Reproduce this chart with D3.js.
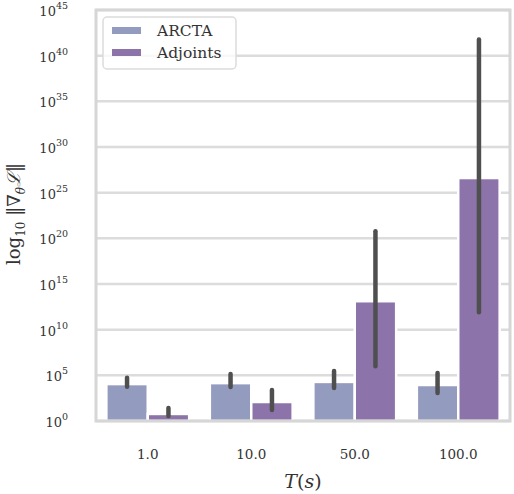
<!DOCTYPE html>
<html>
<head>
<meta charset="utf-8">
<script src="https://cdn.jsdelivr.net/npm/d3@7"></script>
<style>
  body { margin: 0; background: #fff; }
  text { font-family: "DejaVu Serif", serif; fill: #333; }
</style>
</head>
<body>
<div class="chart"></div>
<script>
// values (log scale)
const categories = ['1.0', '10.0', '50.0', '100.0'];
const series = ['ARCTA', 'Adjoints'];
const arctaMean = [1.1e4, 1.4e4, 1.9e4, 8.7e3];
const arctaLow  = [5.6e3, 5.2e3, 4.0e3, 1.2e3];
const arctaHigh = [5.5e4, 1.4e5, 3.0e5, 1.8e5];
const adjMean = [5.9, 1.2e2, 1.3e13, 4.0e26];
const adjLow  = [3.5, 16, 1.0e6, 8.0e11];
const adjHigh = [26, 2.5e3, 6.0e20, 6.0e41];
const yTickExp = [0, 5, 10, 15, 20, 25, 30, 35, 40, 45];
const colors = ['#939bbf', '#8c73a9'];

const svgwidth = 514;
const svgheight = 494;
const margin = {left: 96, right: 4, top: 10, bottom: 73};

const svg = d3.select('.chart').append('svg')
    .attr('width', svgwidth)
    .attr('height', svgheight);

const x = d3.scaleBand()
    .domain(categories)
    .range([margin.left, svgwidth - margin.right])
    .paddingInner(0.2)
    .paddingOuter(0.1);

const xs = d3.scaleBand()
    .domain(series)
    .range([0, x.bandwidth()]);

const y = d3.scaleLog()
    .domain([1, 1e45])
    .range([svgheight - margin.bottom, margin.top]);

// grid
svg.selectAll('.grid')
    .data(yTickExp)
    .enter()
    .append('line')
    .attr('class', 'grid')
    .attr('x1', margin.left)
    .attr('x2', svgwidth - margin.right)
    .attr('y1', d => y(Math.pow(10, d)))
    .attr('y2', d => y(Math.pow(10, d)))
    .attr('stroke', '#dcdcdc')
    .attr('stroke-width', 2.5);

// bars
const rows = categories.map((c, i) => [
    {cat: c, s: 'ARCTA', v: arctaMean[i], lo: arctaLow[i], hi: arctaHigh[i]},
    {cat: c, s: 'Adjoints', v: adjMean[i], lo: adjLow[i], hi: adjHigh[i]}
]).flat();

svg.selectAll('rect.bar')
    .data(rows)
    .enter()
    .append('rect')
    .attr('class', 'bar')
    .attr('x', d => x(d.cat) + xs(d.s))
    .attr('width', xs.bandwidth())
    .attr('y', d => y(d.v))
    .attr('height', d => y(1) - y(d.v))
    .attr('fill', d => colors[series.indexOf(d.s)])
    .attr('stroke', 'white')
    .attr('stroke-width', 2.5);

// error bars
svg.selectAll('line.err')
    .data(rows)
    .enter()
    .append('line')
    .attr('class', 'err')
    .attr('x1', d => x(d.cat) + xs(d.s) + xs.bandwidth() / 2)
    .attr('x2', d => x(d.cat) + xs(d.s) + xs.bandwidth() / 2)
    .attr('y1', d => y(d.lo))
    .attr('y2', d => y(d.hi))
    .attr('stroke', '#4f4f4f')
    .attr('stroke-width', 4.5)
    .attr('stroke-linecap', 'round');

// frame
svg.append('rect')
    .attr('x', margin.left)
    .attr('y', margin.top)
    .attr('width', svgwidth - margin.left - margin.right)
    .attr('height', svgheight - margin.top - margin.bottom)
    .attr('fill', 'none')
    .attr('stroke', '#d6d6d6')
    .attr('stroke-width', 3);

// y tick labels
const yt = svg.selectAll('text.ytick')
    .data(yTickExp)
    .enter()
    .append('text')
    .attr('class', 'ytick')
    .attr('x', 68)
    .attr('y', d => y(Math.pow(10, d)) + 6)
    .attr('text-anchor', 'end')
    .attr('font-size', 13);
yt.append('tspan').text('10');
yt.append('tspan')
    .attr('dy', -7)
    .attr('font-size', 9.5)
    .text(d => d);

// x tick labels
svg.selectAll('text.xtick')
    .data(categories)
    .enter()
    .append('text')
    .attr('class', 'xtick')
    .attr('x', d => x(d) + x.bandwidth() / 2)
    .attr('y', 459)
    .attr('text-anchor', 'middle')
    .attr('font-size', 13.5)
    .text(d => d);

// axis titles
const xl = svg.append('text')
    .attr('x', 303)
    .attr('y', 488)
    .attr('text-anchor', 'middle')
    .attr('font-size', 19);
xl.append('tspan').attr('font-style', 'italic').text('T');
xl.append('tspan').text('(');
xl.append('tspan').attr('font-style', 'italic').text('s');
xl.append('tspan').text(')');

const yl = svg.append('text')
    .attr('transform', 'translate(20,214) rotate(-90)')
    .attr('text-anchor', 'middle')
    .attr('font-size', 18);
yl.append('tspan').text('log');
yl.append('tspan').attr('dy', 5).attr('font-size', 12).text('10');
yl.append('tspan').attr('dy', -5).text(' \u2016\u2207');
yl.append('tspan').attr('dy', 5).attr('font-size', 12).attr('font-style', 'italic').text('\u03b8');
yl.append('tspan').attr('dy', -5).attr('font-style', 'italic').text('\u2112');
yl.append('tspan').text('\u2016');

// legend
const lg = svg.append('g').attr('transform', 'translate(103,17)');
lg.append('rect')
    .attr('width', 133)
    .attr('height', 52)
    .attr('rx', 4)
    .attr('fill', 'white')
    .attr('fill-opacity', 0.8)
    .attr('stroke', '#dcdcdc')
    .attr('stroke-width', 1.5);
lg.selectAll('rect.key')
    .data(series)
    .enter()
    .append('rect')
    .attr('class', 'key')
    .attr('x', 9)
    .attr('y', (d, i) => 10 + i * 22)
    .attr('width', 29)
    .attr('height', 7)
    .attr('fill', (d, i) => colors[i]);
lg.selectAll('text')
    .data(series)
    .enter()
    .append('text')
    .attr('x', 54)
    .attr('y', (d, i) => 19 + i * 22)
    .attr('font-size', 15.5)
    .text(d => d);
</script>
</body>
</html>
